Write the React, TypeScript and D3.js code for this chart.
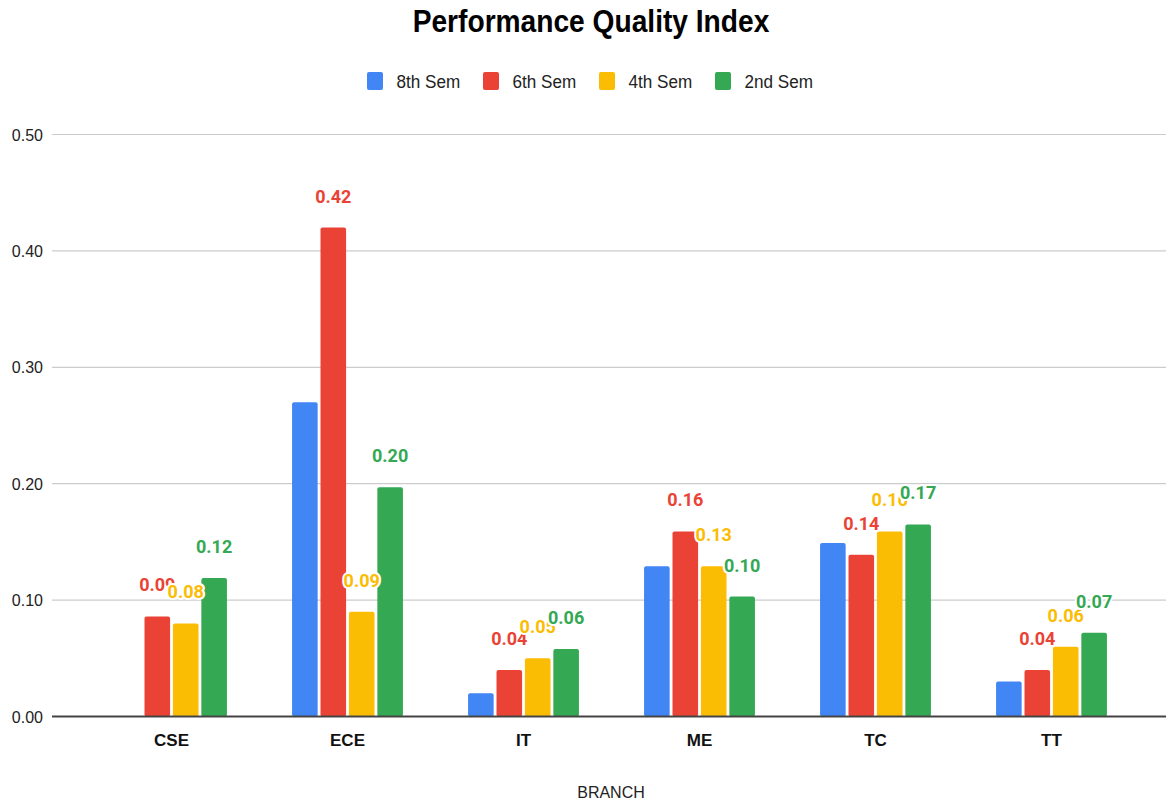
import React from 'react';
import * as d3 from 'd3';

const branches = ['CSE', 'ECE', 'IT', 'ME', 'TC', 'TT'];
const seriesNames = ['8th Sem', '6th Sem', '4th Sem', '2nd Sem'];
const seriesColors = ['#4285F4', '#EA4335', '#FBBC04', '#34A853'];

// values per series, in branch order (null = no value)
const sem8: (number | null)[] = [null, 0.27, 0.02, 0.129, 0.149, 0.03];
const sem6: (number | null)[] = [0.086, 0.42, 0.04, 0.159, 0.139, 0.04];
const sem4: (number | null)[] = [0.08, 0.09, 0.05, 0.129, 0.159, 0.06];
const sem2: (number | null)[] = [0.119, 0.197, 0.058, 0.103, 0.165, 0.072];
const seriesValues = [sem8, sem6, sem4, sem2];
const labelled = [false, true, true, true];

const yTicks = [0, 0.1, 0.2, 0.3, 0.4, 0.5];

const W = 1166;
const H = 806;
const gridLeft = 52;
const gridRight = 1166;

const App: React.FC = () => {
  const y = d3.scaleLinear().domain([0, 0.5]).range([716.5, 134.5]);
  const x0 = d3.scaleBand<string>().domain(branches).range([83.5, 1139.5]).padding(0);
  const step = x0.bandwidth();
  const x1 = d3
    .scaleBand<string>()
    .domain(seriesNames)
    .range([step * 0.185, step * 0.815])
    .paddingInner(0.1);
  const fmt = d3.format('.2f');

  return (
    <svg width={W} height={H} style={{ position: 'absolute', left: 0, top: 0, background: '#fff' }}>
      <rect width={W} height={H} fill="#fff" />
      <text
        transform={`translate(591,32) scale(0.88,1)`}
        textAnchor="middle"
        fontFamily="Liberation Sans, Arial, sans-serif"
        fontWeight="bold"
        fontSize={32}
        fill="#000"
      >
        Performance Quality Index
      </text>

      {seriesNames.map((s, i) => (
        <g key={s} transform={`translate(${367 + i * 116},0)`}>
          <rect x={0} y={72} width={16} height={18} rx={2} fill={seriesColors[i]} />
          <text
            transform={`translate(29.5,87.5) scale(0.9,1)`}
            fontFamily="Liberation Sans, Arial, sans-serif"
            fontSize={19}
            fill="#222"
          >
            {s}
          </text>
        </g>
      ))}

      {yTicks.map((t) => (
        <g key={t}>
          {t > 0 && (
            <line x1={gridLeft} x2={gridRight} y1={y(t)} y2={y(t)} stroke="#cccccc" strokeWidth={1.2} />
          )}
          <text
            x={43}
            y={y(t) + 6}
            textAnchor="end"
            fontFamily="Liberation Sans, Arial, sans-serif"
            fontSize={16}
            fill="#222"
          >
            {fmt(t)}
          </text>
        </g>
      ))}

      {branches.map((b, bi) => (
        <g key={b} transform={`translate(${x0(b)},0)`}>
          {seriesNames.map((s, si) => {
            const v = seriesValues[si][bi];
            if (v == null) return null;
            return (
              <rect
                key={s}
                x={x1(s)}
                y={y(v)}
                width={x1.bandwidth()}
                height={y(0) - y(v)}
                rx={2}
                fill={seriesColors[si]}
              />
            );
          })}
        </g>
      ))}

      <line x1={gridLeft} x2={gridRight} y1={y(0)} y2={y(0)} stroke="#444" strokeWidth={2} />

      {seriesNames.map((s, si) =>
        labelled[si]
          ? branches.map((b, bi) => {
              const v = seriesValues[si][bi];
              if (v == null) return null;
              const cx = (x0(b) ?? 0) + (x1(s) ?? 0) + x1.bandwidth() / 2;
              return (
                <text
                  key={s + b}
                  x={cx}
                  y={y(v) - 25}
                  textAnchor="middle"
                  fontFamily="Roboto, sans-serif"
                  fontWeight="bold"
                  fontSize={18}
                  fill={seriesColors[si]}
                  stroke="#fff"
                  strokeWidth={4}
                  strokeLinejoin="round"
                  paintOrder="stroke"
                >
                  {fmt(v)}
                </text>
              );
            })
          : null
      )}

      {branches.map((b) => (
        <text
          key={b}
          x={(x0(b) ?? 0) + step / 2}
          y={746}
          textAnchor="middle"
          fontFamily="Liberation Sans, Arial, sans-serif"
          fontWeight="bold"
          fontSize={17}
          fill="#111"
        >
          {b}
        </text>
      ))}

      <text
        x={611}
        y={798}
        textAnchor="middle"
        fontFamily="Liberation Sans, Arial, sans-serif"
        fontSize={16}
        fill="#222"
      >
        BRANCH
      </text>
    </svg>
  );
};

export default App;
